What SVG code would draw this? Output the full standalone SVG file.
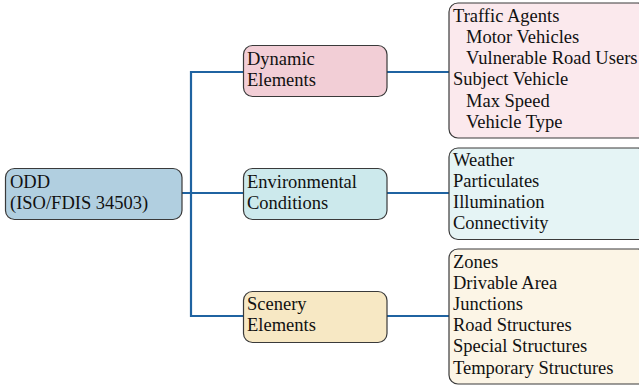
<svg xmlns="http://www.w3.org/2000/svg" width="639" height="388" viewBox="0 0 639 388">
<style>
.box{stroke:#3a3a3a;stroke-width:1.2}
.t{font-family:"Liberation Serif","Times New Roman",serif;font-size:18.5px;fill:#111}
.c{fill:none;stroke:#1f63a1;stroke-width:2.2}
</style>
<rect width="639" height="388" fill="#ffffff"/>
<g id="connectors">
<path class="c" d="M182 193H243"/>
<path class="c" d="M243 72H191V316H243"/>
<path class="c" d="M387 72H449"/>
<path class="c" d="M387 193H449"/>
<path class="c" d="M387 316H449"/>
</g>
<g id="odd">
<rect class="box" x="5.5" y="168.5" width="176.5" height="51" rx="9" fill="#b1cfe0"/>
<text class="t" x="10" y="188">ODD</text>
<text class="t" x="10" y="209">(ISO/FDIS 34503)</text>
</g>
<g id="dynamic">
<rect class="box" x="243.5" y="45.5" width="143.5" height="51" rx="9" fill="#f2ced6"/>
<text class="t" x="247" y="65">Dynamic</text>
<text class="t" x="247" y="86">Elements</text>
</g>
<g id="environmental">
<rect class="box" x="243.5" y="168.5" width="143.5" height="51" rx="9" fill="#cce9ec"/>
<text class="t" x="247" y="188">Environmental</text>
<text class="t" x="247" y="209">Conditions</text>
</g>
<g id="scenery">
<rect class="box" x="243.5" y="291.5" width="143.5" height="51" rx="9" fill="#f7e8c4"/>
<text class="t" x="247" y="310">Scenery</text>
<text class="t" x="247" y="331">Elements</text>
</g>
<g id="dynamic-details">
<rect class="box" x="449" y="3" width="198" height="135" rx="9" fill="#fbe9ed"/>
<text class="t" x="453" y="22">Traffic Agents</text>
<text class="t" x="466" y="43">Motor Vehicles</text>
<text class="t" x="466" y="64">Vulnerable Road Users</text>
<text class="t" x="453" y="85">Subject Vehicle</text>
<text class="t" x="466" y="107">Max Speed</text>
<text class="t" x="466" y="128">Vehicle Type</text>
</g>
<g id="environmental-details">
<rect class="box" x="449" y="148" width="198" height="91.5" rx="9" fill="#e5f4f5"/>
<text class="t" x="453" y="166">Weather</text>
<text class="t" x="453" y="187">Particulates</text>
<text class="t" x="453" y="208">Illumination</text>
<text class="t" x="453" y="229">Connectivity</text>
</g>
<g id="scenery-details">
<rect class="box" x="449" y="249" width="198" height="135" rx="9" fill="#fcf5e6"/>
<text class="t" x="453" y="268">Zones</text>
<text class="t" x="453" y="289">Drivable Area</text>
<text class="t" x="453" y="310">Junctions</text>
<text class="t" x="453" y="331">Road Structures</text>
<text class="t" x="453" y="352">Special Structures</text>
<text class="t" x="453" y="374">Temporary Structures</text>
</g>
</svg>
